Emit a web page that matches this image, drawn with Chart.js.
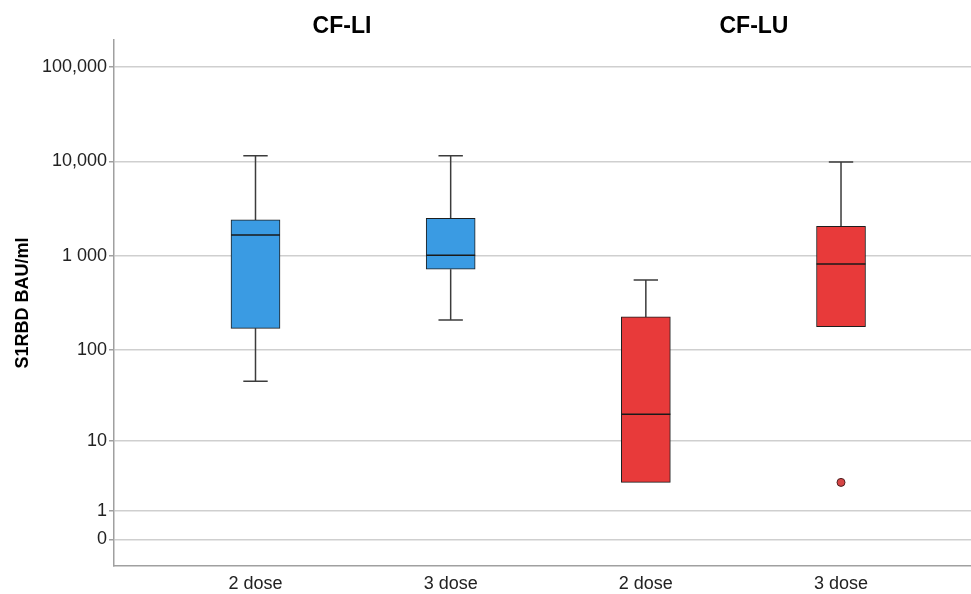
<!DOCTYPE html>
<html lang="en">
<head>
  <meta charset="UTF-8">
  <title>S1RBD BAU/ml — CF-LI vs CF-LU</title>
  <script src="https://cdn.jsdelivr.net/npm/chart.js@4"></script>
  <style>
    * { margin: 0; padding: 0; box-sizing: border-box; }
    body { background: #fff; width: 971px; height: 594px; overflow: hidden; }
    canvas { display: block; }
  </style>
</head>
<body>
  <canvas id="chart" width="971" height="594"></canvas>

  <script>
    // Values (raw BAU/ml, plotted on a safe-log axis)
    const groups = ['CF-LI', 'CF-LU'];
    const doses = ['2 dose', '3 dose', '2 dose', '3 dose'];
    const boxGroup = [0, 0, 1, 1];
    const whiskerLow = [46, 209, 3.0, 177];
    const q1 = [170, 721, 3.0, 177];
    const median = [1667, 1015, 20.1, 822];
    const q3 = [2404, 2504, 225, 2060];
    const whiskerHigh = [11510, 11510, 556, 9880];
    const outliers = [[], [], [], [3.0]];

    const yTickValues = [0, 1, 10, 100, 1000, 10000, 100000];
    const yTickLabels = ['0', '1', '10', '100', '1 000', '10,000', '100,000'];

    const groupColors = ['#3a9be3', '#e83a3a'];

    // SPSS style "safe log": log10(v + 1)
    const slog = (v) => Math.log10(v + 1);

    const font = "'Liberation Sans', Arial, Helvetica, sans-serif";
    const capHalf = 0.0625;   // whisker cap half width, x units
    const medHalf = 0.1255;   // median half width, x units
    const titleAt = [1.443, 3.554];

    // Boxes (floating bars q1..q3)
    const boxData = doses.map((d, i) => ({ x: i + 1, y: [slog(q1[i]), slog(q3[i])] }));

    // Whiskers + caps as one gapped line
    const whiskerData = [];
    doses.forEach((d, i) => {
      const x = i + 1;
      if (whiskerHigh[i] > q3[i]) {
        whiskerData.push({ x, y: slog(q3[i]) }, { x, y: slog(whiskerHigh[i]) }, { x, y: null });
        whiskerData.push({ x: x - capHalf, y: slog(whiskerHigh[i]) }, { x: x + capHalf, y: slog(whiskerHigh[i]) }, { x, y: null });
      }
      if (whiskerLow[i] < q1[i]) {
        whiskerData.push({ x, y: slog(q1[i]) }, { x, y: slog(whiskerLow[i]) }, { x, y: null });
        whiskerData.push({ x: x - capHalf, y: slog(whiskerLow[i]) }, { x: x + capHalf, y: slog(whiskerLow[i]) }, { x, y: null });
      }
    });

    const medianData = [];
    doses.forEach((d, i) => {
      medianData.push({ x: i + 1 - medHalf, y: slog(median[i]) }, { x: i + 1 + medHalf, y: slog(median[i]) }, { x: i + 1, y: null });
    });

    const outlierData = [];
    outliers.forEach((list, i) => list.forEach(v => outlierData.push({ x: i + 1, y: slog(v) })));

    // no label overflow padding on the horizontal axes
    const noSidePad = (h) => (s) => { s.height = h; s.paddingLeft = 0; s.paddingRight = 0; };

    new Chart(document.getElementById('chart'), {
      type: 'bar',
      data: {
        datasets: [
          { type: 'line', data: whiskerData, borderColor: '#3c3c3c', borderWidth: 1.5, pointRadius: 0, spanGaps: false, order: 3 },
          {
            type: 'bar', data: boxData, barThickness: 49, grouped: false,
            backgroundColor: boxGroup.map(g => groupColors[g]),
            borderColor: '#1e1e1e', borderWidth: 1, borderSkipped: false, order: 2
          },
          { type: 'line', data: medianData, borderColor: '#1a1a1a', borderWidth: 1.5, pointRadius: 0, spanGaps: false, order: 1 },
          {
            type: 'scatter', data: outlierData, pointRadius: 4, pointBorderWidth: 1,
            backgroundColor: '#d64545', borderColor: '#4d1f1f', order: 0
          }
        ]
      },
      options: {
        responsive: false,
        animation: false,
        devicePixelRatio: 1,
        layout: { padding: 0, autoPadding: false },
        plugins: { legend: { display: false }, tooltip: { enabled: false } },
        scales: {
          x: {
            type: 'linear', position: 'bottom', min: 0.275, max: 4.666, offset: false,
            grid: { display: true, color: 'rgba(0,0,0,0)', drawTicks: false, offset: false },
            border: { display: true, color: '#a0a0a0', width: 1.5 },
            afterBuildTicks: (s) => { s.ticks = doses.map((d, i) => ({ value: i + 1 })); },
            afterFit: noSidePad(28),
            ticks: {
              padding: 7, color: '#222', maxRotation: 0, autoSkip: false,
              font: { family: font, size: 18 },
              callback: (v, i) => doses[i]
            }
          },
          x2: {
            type: 'linear', position: 'top', min: 0.275, max: 4.666, offset: false,
            grid: { display: false, drawTicks: false },
            border: { display: false },
            afterBuildTicks: (s) => { s.ticks = titleAt.map(v => ({ value: v })); },
            afterFit: noSidePad(40),
            ticks: {
              padding: 0, color: '#000', maxRotation: 0, autoSkip: false,
              font: { family: font, size: 23, weight: 'bold' },
              callback: (v, i) => groups[i]
            }
          },
          y: {
            type: 'linear', min: -0.283, max: 5.286,
            grid: { color: '#cfcfcf', lineWidth: 1.5, drawTicks: true, tickLength: 5, tickColor: '#a0a0a0' },
            border: { display: true, color: '#a0a0a0', width: 1.5 },
            afterBuildTicks: (s) => { s.ticks = yTickValues.map(v => ({ value: slog(v) })); },
            afterFit: (s) => { s.width = 114; },
            ticks: {
              padding: 2, color: '#222', autoSkip: false,
              font: { family: font, size: 18 },
              callback: (v, i) => yTickLabels[i]
            },
            title: {
              display: true, text: 'S1RBD BAU/ml', color: '#000',
              padding: { top: 12, bottom: 0 },
              font: { family: font, size: 18, weight: 'bold' }
            }
          }
        }
      }
    });
  </script>
</body>
</html>
